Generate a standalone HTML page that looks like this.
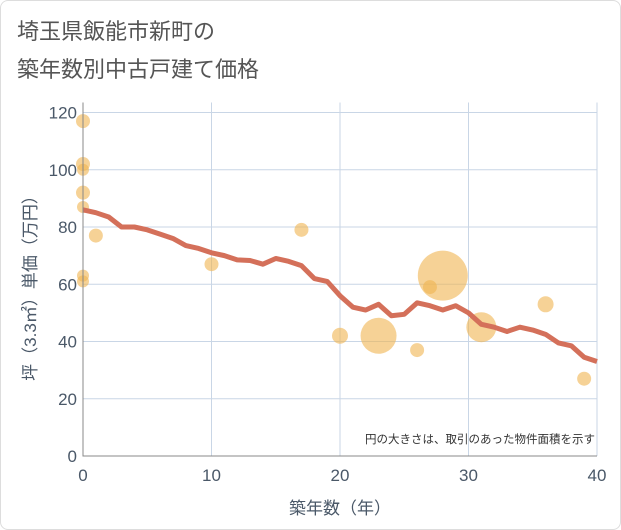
<!DOCTYPE html>
<html><head><meta charset="utf-8"><style>
body{margin:0;background:#fff;}
#wrap{width:621px;height:530px;position:relative;font-family:"Liberation Sans","Noto Sans CJK JP",sans-serif;}
#card{position:absolute;left:0;top:0;width:619px;height:528px;border:1px solid #ddd;border-radius:8px;}
</style></head><body>
<div id="wrap"><div id="card"></div>
<svg id="svg" width="621" height="530" style="position:absolute;left:0;top:0">
<text x="17" y="39" font-size="22" fill="#555">埼玉県飯能市新町の</text>
<text x="17" y="77" font-size="22" fill="#555">築年数別中古戸建て価格</text>
<g id="grid"></g><g id="bubbles"></g><g id="line"></g><g id="axes"></g>
<text x="595" y="443" font-size="11.5" text-anchor="end" fill="#333">円の大きさは、取引のあった物件面積を示す</text>
<text x="340" y="514" font-size="17" text-anchor="middle" fill="#4a5868">築年数（年）</text>
<text transform="translate(36,284) rotate(-90)" font-size="17" text-anchor="middle" fill="#4a5868">坪（3.3㎡）単価（万円）</text>
</svg></div>
<script>
const xTicks=[0,10,20,30,40];
const yTicks=[0,20,40,60,80,100,120];
const lineX=[0,1,2,3,4,5,6,7,8,9,10,11,12,13,14,15,16,17,18,19,20,21,22,23,24,25,26,27,28,29,30,31,32,33,34,35,36,37,38,39,40];
const lineY=[86,85,83.5,80,80,79,77.5,76,73.5,72.5,71,70,68.5,68.3,67,69,68,66.5,62,61,56,52,51,53,49,49.5,53.5,52.5,51,52.5,50,46,45,43.5,45,44,42.5,39.5,38.5,34.5,33];
const bubX=[0,0,0,0,0,0,0,1,10,17,20,23,26,27,28,31,36,39];
const bubY=[117,102,100,92,87,63,61,77,67,79,42,42,37,59,63,45,53,27];
const bubR=[7,7,6,7,6,6,6,7,7,7,8,18,7,7,25,15,8,7];
const X0=83,X1=597,Y0=456,Y1=112.5;
const sx=v=>X0+(v-0)/40*(X1-X0);
const sy=v=>Y0-(v/120)*(Y0-Y1);
const NS="http://www.w3.org/2000/svg";
function mk(parent,tag,attrs){const e=document.createElementNS(NS,tag);for(const k in attrs)e.setAttribute(k,attrs[k]);document.getElementById(parent).appendChild(e);return e;}
xTicks.forEach(t=>{
 const l=mk('grid','line',{x1:sx(t),x2:sx(t),y1:Y1-10,y2:Y0,stroke:'#c9d6e6','stroke-width':1});
 
 
 const tx=mk('axes','text',{x:sx(t),y:Y0+25,'font-size':17,'text-anchor':'middle',fill:'#4a5868'});
 tx.textContent=t;
 
 
});
yTicks.forEach(t=>{
 const l=mk('grid','line',{x1:X0,x2:X1,y1:sy(t),y2:sy(t),stroke:'#c9d6e6','stroke-width':1});
 
 
 const tx=mk('axes','text',{x:X0-6,y:sy(t)+6,'font-size':17,'text-anchor':'end',fill:'#4a5868'});
 tx.textContent=t;
 
 
});
const ax=mk('axes','path',{d:`M${X0},${Y1-10}V${Y0}H${X1}`,fill:'none',stroke:'#888','stroke-width':1});


bubX.forEach((v,i)=>{
 const c=mk('bubbles','circle',{cx:sx(v),cy:sy(bubY[i]),r:bubR[i],fill:'#f0b450','fill-opacity':0.6});
 
 
});
const p=mk('line','path',{d:lineX.map((v,i)=>(i?'L':'M')+sx(v)+','+sy(lineY[i])).join(''),fill:'none',stroke:'#d4705a','stroke-width':5,'stroke-linejoin':'round'});


</script>
</body></html>
